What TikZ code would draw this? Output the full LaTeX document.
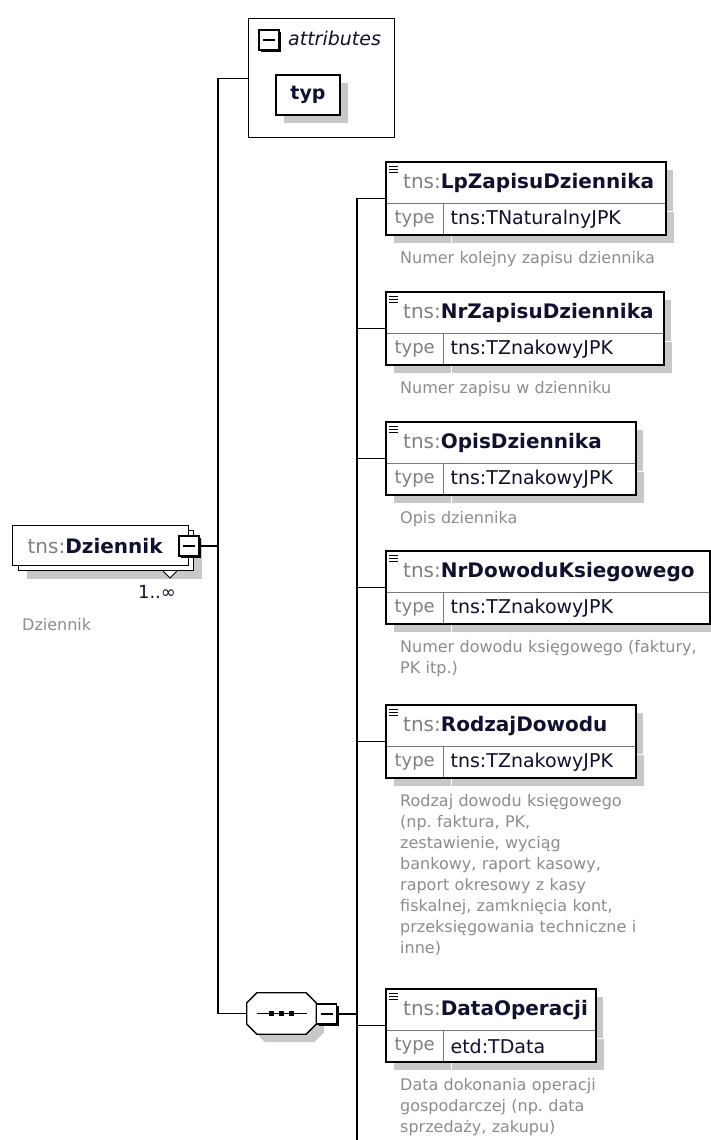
\documentclass[tikz,border=0pt]{standalone}
\usepackage{fontspec}
\setmainfont{DejaVu Sans}
\usetikzlibrary{positioning,shadows,calc}

\definecolor{prefixgray}{RGB}{128,128,128}
\definecolor{namecol}{RGB}{16,16,48}
\definecolor{docgray}{RGB}{140,140,140}
\definecolor{shadowgray}{RGB}{200,200,200}
\definecolor{divgray}{RGB}{120,120,120}

\newcommand{\headfont}{\fontsize{20}{24}\selectfont}
\newcommand{\typefont}{\fontsize{18}{22}\selectfont}
\newcommand{\valfont}{\fontsize{19}{22}\selectfont}
\newcommand{\docfont}{\fontsize{16}{21}\selectfont}
\newcommand{\tnsname}[1]{{\color{prefixgray}tns:}\textbf{#1}}
\frenchspacing

\begin{document}
\begin{tikzpicture}[x=1pt, y=-1pt,
			conn/.style={line width=1.3pt},
			boxshadow/.style={drop shadow={shadow xshift=8pt, shadow yshift=-8pt, fill=shadowgray, opacity=1}},
			elemhead/.style={boxshadow, fill=white, anchor=north west, text width=#1, minimum height=41pt, inner xsep=0pt, inner ysep=0pt, align=left, font=\headfont, text=namecol,
				path picture={\foreach \dy in {4pt,7pt,10pt} \draw[draw=black, line width=1.2pt] ([shift={(3pt,-\dy)}]path picture bounding box.north west) -- ++(9pt,0pt);}},
			tlabel/.style={boxshadow, fill=white, draw=divgray, minimum width=57pt, minimum height=31pt, inner sep=0pt, font=\typefont, text=prefixgray},
			tvalue/.style={boxshadow, fill=white, draw=divgray, text width=#1, minimum height=31pt, inner xsep=0pt, inner ysep=0pt, align=left, font=\valfont, text=namecol},
			elemframe/.style={line width=1.6pt},
			doc/.style={anchor=base west, text width=340pt, inner sep=0pt, align=left, font=\docfont, text=docgray},
			minusbox/.style={draw, line width=1.3pt, fill=white, minimum size=20pt, inner sep=0pt,
				drop shadow={shadow xshift=2pt, shadow yshift=-2pt, fill=black, opacity=1},
				path picture={\draw[draw=black, line width=1.2pt] ([xshift=4pt]path picture bounding box.west) -- ([xshift=-4pt]path picture bounding box.east);}}]
	\useasboundingbox (0,0) rectangle (711,1140);
	\clip (0,0) rectangle (711,1140);

	% attributes
	\node[draw, line width=1.3pt, anchor=north west, minimum width=146pt, minimum height=119pt] (attrs) at (248,18) {};
	\node[minusbox] (attrminus) at (269,40) {};
	\node[anchor=base west, inner sep=0pt, font=\fontsize{19}{22}\selectfont\itshape, text=namecol] (attrlbl) at (288,46) {attributes};
	\node[draw, line width=1.3pt, fill=white, boxshadow, minimum width=64pt, minimum height=40pt, font=\fontsize{19}{22}\selectfont\bfseries, text=namecol] (typ) at (308,95) {typ};

	% root element
	\node[draw, line width=1.3pt, fill=white, boxshadow, anchor=north west, minimum width=175pt, minimum height=40pt] (dzback) at (18,530) {};
	\node[draw, line width=1.3pt, fill=white, anchor=north west, text width=176pt, minimum height=40pt, inner xsep=0pt, align=left, font=\headfont, text=namecol] (dziennik) at (12,525) {\hspace*{15pt}\tnsname{Dziennik}};
	\node[minusbox] (dzminus) at (189,546) {};
	\draw[line width=1pt, fill=white] (163,571) -- (170,578) -- (177,571);
	\node[anchor=base, inner sep=0pt, font=\typefont, text=namecol] (dzmult) at (157,598) {1..∞};
	\node[doc] (dzdoc) at (22,630) {Dziennik};

	% sequence
	\node[minimum width=69pt, minimum height=41pt, inner sep=0pt] (seq) at (281.5,1013.5) {};
	\fill[shadowgray] ([shift={(18pt,-8pt)}]seq.north west) -- ([shift={(-2pt,-8pt)}]seq.north east) -- ([shift={(8pt,-18pt)}]seq.north east)
		-- ([shift={(8pt,2pt)}]seq.south east) -- ([shift={(-2pt,-8pt)}]seq.south east) -- ([shift={(18pt,-8pt)}]seq.south west)
		-- ([shift={(8pt,2pt)}]seq.south west) -- ([shift={(8pt,-18pt)}]seq.north west) -- cycle;
	\draw[line width=1.3pt, fill=white] ([xshift=10pt]seq.north west) -- ([xshift=-10pt]seq.north east) -- ([yshift=-10pt]seq.north east)
		-- ([yshift=10pt]seq.south east) -- ([xshift=-10pt]seq.south east) -- ([xshift=10pt]seq.south west)
		-- ([yshift=10pt]seq.south west) -- ([yshift=-10pt]seq.north west) -- cycle;
	\draw[line width=1.3pt] ([xshift=-25pt]seq.center) -- ([xshift=25pt]seq.center);
	\foreach \dx in {-10pt,0pt,10pt}
		\fill ([xshift=\dx]seq.center) +(-2.5,-2.5) rectangle +(2.5,2.5);
	\node[minusbox] (seqminus) at (326.5,1014) {};

	% child elements
	\node[elemhead=279pt] (lp) at (386,162) {\hspace*{17pt}\tnsname{LpZapisuDziennika}};
	\node[tlabel, below right=0pt and 0pt of lp.south west] (lpt) {type};
	\node[tvalue=222pt, right=0pt of lpt] (lpv) {\hspace*{7pt}tns:TNaturalnyJPK};
	\draw[elemframe] (lp.north west) rectangle (lpv.south east);
	\node[doc] (lpdoc) at ($(lpt.south west)+(14,29)$) {Numer kolejny zapisu dziennika};

	\node[elemhead=277pt] (nrz) at (386,292) {\hspace*{17pt}\tnsname{NrZapisuDziennika}};
	\node[tlabel, below right=0pt and 0pt of nrz.south west] (nrzt) {type};
	\node[tvalue=220pt, right=0pt of nrzt] (nrzv) {\hspace*{7pt}tns:TZnakowyJPK};
	\draw[elemframe] (nrz.north west) rectangle (nrzv.south east);
	\node[doc] (nrzdoc) at ($(nrzt.south west)+(14,29)$) {Numer zapisu w dzienniku};

	\node[elemhead=249pt] (opis) at (386,422) {\hspace*{17pt}\tnsname{OpisDziennika}};
	\node[tlabel, below right=0pt and 0pt of opis.south west] (opist) {type};
	\node[tvalue=192pt, right=0pt of opist] (opisv) {\hspace*{7pt}tns:TZnakowyJPK};
	\draw[elemframe] (opis.north west) rectangle (opisv.south east);
	\node[doc] (opisdoc) at ($(opist.south west)+(14,29)$) {Opis dziennika};

	\node[elemhead=323pt] (nrdow) at (386,551) {\hspace*{17pt}\tnsname{NrDowoduKsiegowego}};
	\node[tlabel, below right=0pt and 0pt of nrdow.south west] (nrdowt) {type};
	\node[tvalue=266pt, right=0pt of nrdowt] (nrdowv) {\hspace*{7pt}tns:TZnakowyJPK};
	\draw[elemframe] (nrdow.north west) rectangle (nrdowv.south east);
	\node[doc] (nrdowdoc) at ($(nrdowt.south west)+(14,29)$) {Numer dowodu księgowego (faktury,\\PK itp.)};

	\node[elemhead=249pt] (rodzaj) at (386,705) {\hspace*{17pt}\tnsname{RodzajDowodu}};
	\node[tlabel, below right=0pt and 0pt of rodzaj.south west] (rodzajt) {type};
	\node[tvalue=192pt, right=0pt of rodzajt] (rodzajv) {\hspace*{7pt}tns:TZnakowyJPK};
	\draw[elemframe] (rodzaj.north west) rectangle (rodzajv.south east);
	\node[doc] (rodzajdoc) at ($(rodzajt.south west)+(14,29)$) {Rodzaj dowodu księgowego\\(np. faktura, PK,\\zestawienie, wyciąg\\bankowy, raport kasowy,\\raport okresowy z kasy\\fiskalnej, zamknięcia kont,\\przeksięgowania techniczne i\\inne)};

	\node[elemhead=209pt] (dataop) at (386,989) {\hspace*{17pt}\tnsname{DataOperacji}};
	\node[tlabel, below right=0pt and 0pt of dataop.south west] (dataopt) {type};
	\node[tvalue=152pt, right=0pt of dataopt] (dataopv) {\hspace*{7pt}etd:TData};
	\draw[elemframe] (dataop.north west) rectangle (dataopv.south east);
	\node[doc] (dataopdoc) at ($(dataopt.south west)+(14,29)$) {Data dokonania operacji\\gospodarczej (np. data\\sprzedaży, zakupu)};

	% connectors
	\coordinate (ltrunk) at (218,0);
	\coordinate (rtrunk) at (357,1140);
	\draw[conn] (attrs.west) -| (ltrunk |- seq.west) -- (seq.west);
	\draw[conn] (dzminus.east) -- (dzminus.east -| ltrunk);
	\draw[conn] (seqminus.east) -- (seqminus.east -| rtrunk);
	\draw[conn] (rtrunk) |- ([yshift=5pt]lp.south west);
	\draw[conn] (rtrunk) |- ([yshift=5pt]nrz.south west);
	\draw[conn] (rtrunk) |- ([yshift=5pt]opis.south west);
	\draw[conn] (rtrunk) |- ([yshift=5pt]nrdow.south west);
	\draw[conn] (rtrunk) |- ([yshift=5pt]rodzaj.south west);
	\draw[conn] (rtrunk) |- ([yshift=5pt]dataop.south west);
\end{tikzpicture}
\end{document}
